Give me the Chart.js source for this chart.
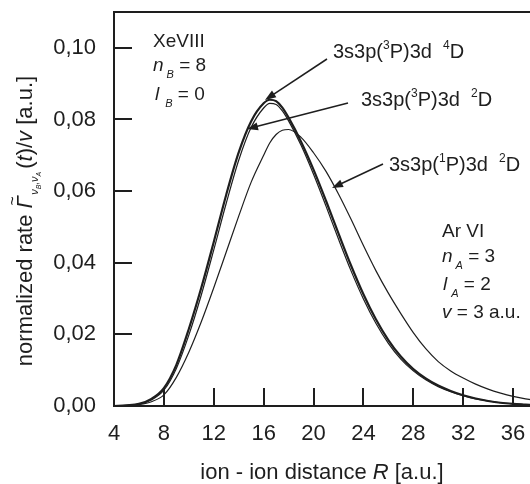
<!DOCTYPE html>
<html>
<head>
<meta charset="utf-8">
<script src="https://cdn.jsdelivr.net/npm/chart.js@4.4.1/dist/chart.umd.min.js"></script>
<style>
  html, body { margin: 0; padding: 0; background: #fff; overflow: hidden; }
  #wrap { width: 540px; height: 484px; }
</style>
</head>
<body>
<div id="wrap"><canvas id="chart" width="540" height="484"></canvas></div>
<script>
// ion - ion distance R [a.u.]
var distR = [4, 5, 6, 7, 8, 9, 10, 11, 12, 13, 14, 15, 16, 16.5, 17, 17.5, 18, 19, 20, 21, 22, 23, 24, 25, 26, 27, 28, 29, 30, 31, 32, 33, 34, 35, 36, 37, 38];

// 3s3p(3P)3d 4D
var rate4D = [0, 0.0002, 0.0006, 0.0020, 0.0050, 0.0115, 0.0215, 0.0330, 0.0458, 0.0590, 0.0708, 0.0795, 0.0845, 0.0855, 0.0851, 0.0833, 0.0805, 0.0738, 0.0660, 0.0573, 0.0482, 0.0393, 0.0312, 0.0242, 0.0184, 0.0138, 0.0103, 0.0077, 0.0057, 0.0042, 0.0030, 0.0021, 0.0014, 0.0009, 0.0006, 0.0004, 0.0002];
// 3s3p(3P)3d 2D
var rate3P2D = [0, 0.0002, 0.0005, 0.0017, 0.0044, 0.0105, 0.0198, 0.0310, 0.0436, 0.0566, 0.0686, 0.0778, 0.0832, 0.0845, 0.0842, 0.0824, 0.0796, 0.0728, 0.0647, 0.0558, 0.0466, 0.0378, 0.0299, 0.0231, 0.0175, 0.0131, 0.0098, 0.0073, 0.0054, 0.0040, 0.0029, 0.0020, 0.0014, 0.0009, 0.0006, 0.0004, 0.0002];
// 3s3p(1P)3d 2D
var rate1P2D = [0, 0.0001, 0.0004, 0.0012, 0.0031, 0.0080, 0.0150, 0.0235, 0.0330, 0.0430, 0.0530, 0.0625, 0.0700, 0.0735, 0.0758, 0.0770, 0.0772, 0.0750, 0.0707, 0.0655, 0.0592, 0.0522, 0.0448, 0.0378, 0.0315, 0.0258, 0.0205, 0.0160, 0.0124, 0.0098, 0.0078, 0.0061, 0.0047, 0.0036, 0.0027, 0.0020, 0.0015];

var xTicks = [4, 8, 12, 16, 20, 24, 28, 32, 36];
var yTicks = [0, 0.02, 0.04, 0.06, 0.08, 0.10];

var INK = "#1e1e1e";
var SANS = "'Liberation Sans', Arial, sans-serif";

function pts(ys) {
    return distR.map(function (r, i) { return { x: r, y: ys[i] }; });
}

function keepTicks(list) {
    return function (scale) {
        scale.ticks = list.map(function (v) { return { value: v }; });
    };
}

// draws a run of text pieces one after another
function rich(ctx, parts, x, y) {
    parts.forEach(function (p) {
        ctx.font = p.f;
        ctx.fillText(p.t, x + (p.dx || 0), y + (p.dy || 0));
        x += ctx.measureText(p.t).width + (p.dx || 0);
    });
    return x;
}

function richWidth(ctx, parts) {
    var w = 0;
    parts.forEach(function (p) {
        ctx.font = p.f;
        w += ctx.measureText(p.t).width + (p.dx || 0);
    });
    return w;
}

function arrow(ctx, x1, y1, x2, y2) {
    var a = Math.atan2(y2 - y1, x2 - x1);
    var L = 11, W = 4;
    ctx.beginPath();
    ctx.moveTo(x1, y1);
    ctx.lineTo(x2 - Math.cos(a) * L * 0.8, y2 - Math.sin(a) * L * 0.8);
    ctx.lineWidth = 1.5;
    ctx.stroke();
    ctx.beginPath();
    ctx.moveTo(x2, y2);
    ctx.lineTo(x2 - Math.cos(a) * L - Math.sin(a) * W, y2 - Math.sin(a) * L + Math.cos(a) * W);
    ctx.lineTo(x2 - Math.cos(a) * L + Math.sin(a) * W, y2 - Math.sin(a) * L - Math.cos(a) * W);
    ctx.closePath();
    ctx.fill();
}

var framePlugin = {
    id: "frame",
    afterDraw: function (chart) {
        var ctx = chart.ctx;
        var ca = chart.chartArea;
        var sx = chart.scales.x, sy = chart.scales.y;
        ctx.save();
        ctx.strokeStyle = INK;
        ctx.fillStyle = INK;

        // box
        ctx.lineWidth = 2;
        ctx.beginPath();
        ctx.moveTo(ca.left, ca.bottom);
        ctx.lineTo(ca.left, ca.top);
        ctx.lineTo(ca.right, ca.top);
        ctx.lineTo(ca.right, ca.bottom);
        ctx.closePath();
        ctx.stroke();

        // inward ticks
        sx.ticks.forEach(function (t) {
            var px = Math.round(sx.getPixelForValue(t.value));
            ctx.beginPath();
            ctx.moveTo(px, ca.bottom);
            ctx.lineTo(px, ca.bottom - 18);
            ctx.stroke();
        });
        sy.ticks.forEach(function (t) {
            var py = Math.round(sy.getPixelForValue(t.value));
            ctx.beginPath();
            ctx.moveTo(ca.left, py);
            ctx.lineTo(ca.left + 18, py);
            ctx.stroke();
        });

        ctx.textBaseline = "alphabetic";
        ctx.textAlign = "left";

        // x axis title
        var f22 = "22px " + SANS, i22 = "italic 22px " + SANS;
        var xt = [{ t: "ion - ion distance ", f: f22 }, { t: "R", f: i22 }, { t: " [a.u.]", f: f22 }];
        rich(ctx, xt, 322 - richWidth(ctx, xt) / 2, 479);

        // y axis title (rotated)
        var yt = [
            { t: "normalized rate ", f: f22 },
            { t: "\u0393", f: i22 },
            { t: "\u03BD", f: "italic 11px " + SANS, dy: 6, dx: 1 },
            { t: "B", f: "italic 7px " + SANS, dy: 9 },
            { t: ",", f: "10px " + SANS, dy: 6 },
            { t: "\u03BD", f: "italic 11px " + SANS, dy: 6 },
            { t: "A", f: "italic 7px " + SANS, dy: 9 },
            { t: "(", f: f22, dx: 3 },
            { t: "t", f: i22 },
            { t: ")/", f: f22 },
            { t: "v", f: i22 },
            { t: " [a.u.]", f: f22 }
        ];
        ctx.save();
        ctx.translate(32, 221);
        ctx.rotate(-Math.PI / 2);
        var yw = richWidth(ctx, yt);
        var x0 = -yw / 2;
        ctx.font = f22;
        var gx = x0 + ctx.measureText("normalized rate ").width;
        rich(ctx, yt, x0, 0);
        // tilde over Gamma
        ctx.font = "16px " + SANS;
        ctx.fillText("~", gx + 3, -14);
        ctx.restore();

        // parameter blocks
        var f19 = "19px " + SANS, i19 = "italic 19px " + SANS, s11 = "italic 11px " + SANS;
        ctx.font = f19;
        ctx.fillText("XeVIII", 153, 47);
        rich(ctx, [{ t: "n", f: i19 }, { t: "B", f: s11, dy: 7, dx: 3 }, { t: " = 8", f: f19 }], 153, 71);
        rich(ctx, [{ t: "l", f: i19 }, { t: "B", f: s11, dy: 7, dx: 6 }, { t: " = 0", f: f19 }], 155, 100);

        ctx.font = f19;
        ctx.fillText("Ar VI", 442, 237);
        rich(ctx, [{ t: "n", f: i19 }, { t: "A", f: s11, dy: 7, dx: 3 }, { t: " = 3", f: f19 }], 442, 262);
        rich(ctx, [{ t: "l", f: i19 }, { t: "A", f: s11, dy: 7, dx: 4 }, { t: " = 2", f: f19 }], 443, 290);
        rich(ctx, [{ t: "v", f: i19 }, { t: " = 3 a.u.", f: f19 }], 442, 318);

        // state labels
        var f20 = "20px " + SANS, sup = "12px " + SANS;
        function state(core, mult, x, y) {
            rich(ctx, [
                { t: "3s3p(", f: f20 },
                { t: core, f: sup, dy: -9 },
                { t: "P)3d  ", f: f20 },
                { t: mult, f: sup, dy: -9 },
                { t: "D", f: f20 }
            ], x, y);
        }
        state("3", "4", 333, 58);
        state("3", "2", 361, 106);
        state("1", "2", 389, 171);

        arrow(ctx, 327, 59, 265, 100);
        arrow(ctx, 348, 103, 247, 129);
        arrow(ctx, 383, 164, 332, 188);

        ctx.restore();
    }
};

new Chart(document.getElementById("chart"), {
    type: "scatter",
    data: {
        datasets: [{
            label: "3s3p(3P)3d 4D",
            data: pts(rate4D),
            borderColor: INK,
            borderWidth: 2.2
        }, {
            label: "3s3p(3P)3d 2D",
            data: pts(rate3P2D),
            borderColor: INK,
            borderWidth: 1.2
        }, {
            label: "3s3p(1P)3d 2D",
            data: pts(rate1P2D),
            borderColor: INK,
            borderWidth: 1.2
        }]
    },
    options: {
        responsive: false,
        animation: false,
        showLine: true,
        elements: {
            point: { radius: 0 },
            line: { cubicInterpolationMode: "monotone", fill: false }
        },
        layout: { padding: { top: 12, right: 2, left: 0, bottom: 0 } },
        plugins: {
            legend: { display: false },
            tooltip: { enabled: false }
        },
        scales: {
            x: {
                type: "linear",
                min: 4,
                max: 38,
                grid: { display: false, drawTicks: false },
                border: { display: false },
                afterBuildTicks: keepTicks(xTicks),
                afterFit: function (s) { s.height = 78; s.paddingLeft = 0; s.paddingRight = 0; },
                ticks: {
                    color: INK,
                    padding: 15,
                    font: { family: SANS, size: 22 },
                    maxRotation: 0,
                    callback: function (v) { return v; }
                }
            },
            y: {
                type: "linear",
                min: 0,
                max: 0.11,
                grid: { display: false, drawTicks: false },
                border: { display: false },
                afterBuildTicks: keepTicks(yTicks),
                afterFit: function (s) { s.width = 114; s.paddingTop = 0; s.paddingBottom = 0; },
                ticks: {
                    color: INK,
                    padding: 18,
                    font: { family: SANS, size: 22 },
                    callback: function (v) { return v.toFixed(2).replace(".", ","); }
                }
            }
        }
    },
    plugins: [framePlugin]
});
</script>
</body>
</html>
